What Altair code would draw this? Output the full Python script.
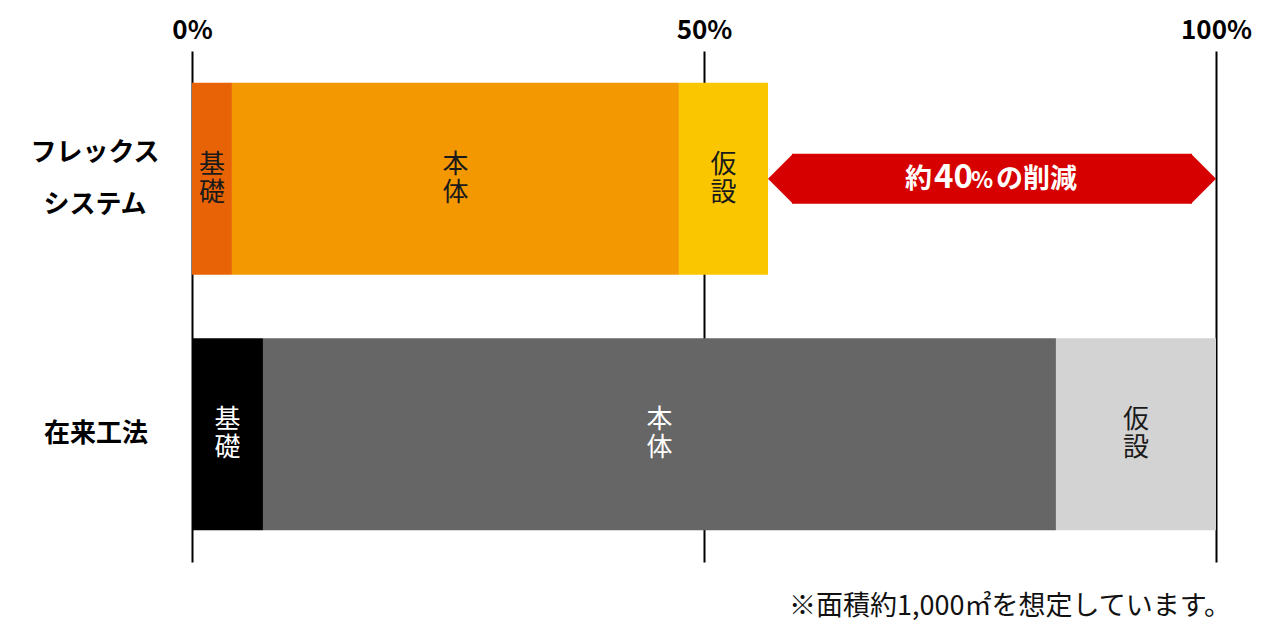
import altair as alt
import pandas as pd

FONT = "Noto Sans CJK JP"

methods = ["フレックスシステム", "在来工法"]
method_labels = ["フレックス\nシステム", "在来工法"]
segments = ["基礎", "本体", "仮設"]
flex_values = [3.9, 43.65, 8.7]
conv_values = [6.93, 77.44, 15.63]
flex_colors = ["#E86306", "#F39800", "#F9C600"]
conv_colors = ["#000000", "#666666", "#D3D3D3"]
flex_text_colors = ["#1a1a1a", "#1a1a1a", "#1a1a1a"]
conv_text_colors = ["#ffffff", "#ffffff", "#1a1a1a"]
tick_values = [0, 50, 100]
arrow_parts = ["約", "40", "%", "の削減"]
arrow_part_sizes = [27, 33, 23, 27]
arrow_part_dx = [-87, -58, -21, 4]
arrow_color = "#D60000"
footnote = "※面積約1,000㎡を想定しています。"

rows = []
for m, vals, cols, tcols in [
    (methods[0], flex_values, flex_colors, flex_text_colors),
    (methods[1], conv_values, conv_colors, conv_text_colors),
]:
    for i, (s, v, c, tc) in enumerate(zip(segments, vals, cols, tcols)):
        rows.append({"method": m, "segment": s, "label": "\n".join(s),
                     "value": v, "order": i, "color": c, "tcolor": tc})
df = pd.DataFrame(rows)

yscale = alt.Scale(domain=methods, paddingInner=0.2485, paddingOuter=0.124)
Y = alt.Y("method:N", sort=methods, scale=yscale, axis=None)
xscale = alt.Scale(domain=[0, 100], nice=False, zero=False)

xaxis = alt.Axis(
    orient="top", values=tick_values, labelExpr="datum.value + '%'",
    grid=True, gridColor="#000000", gridWidth=2, gridOpacity=1,
    domain=False, ticks=False, labelFontSize=26, labelFontWeight="bold",
    labelColor="#000000", labelPadding=8, labelFont=FONT, title=None,
    labelFlush=False, labelOverlap=False,
)

base = alt.Chart(df).transform_stack(
    stack="value", groupby=["method"], as_=["x0", "x1"],
    sort=[alt.SortField("order", order="ascending")],
)

bars = base.mark_bar().encode(
    x=alt.X("x0:Q", scale=xscale, axis=xaxis),
    x2="x1:Q",
    y=Y,
    color=alt.Color("color:N", scale=None),
)

seg_text = base.transform_calculate(xm="(datum.x0 + datum.x1) / 2").mark_text(
    font=FONT, fontSize=26, lineHeight=28, lineBreak="\n",
    align="center", baseline="middle", dy=-14,
).encode(
    x=alt.X("xm:Q", scale=xscale),
    y=Y,
    text="label:N",
    color=alt.Color("tcolor:N", scale=None),
)

cat_df = pd.DataFrame({"method": methods, "label": method_labels,
                       "shift": [-26, 0]})
cat_text = alt.Chart(cat_df).transform_filter("datum.shift < 0").mark_text(
    font=FONT, fontSize=26, fontWeight="bold", lineHeight=52, lineBreak="\n",
    align="center", baseline="middle", color="#000000", dy=-26,
).encode(x=alt.value(-97), y=Y, text="label:N")
cat_text2 = alt.Chart(cat_df).transform_filter("datum.shift == 0").mark_text(
    font=FONT, fontSize=26, fontWeight="bold",
    align="center", baseline="middle", color="#000000",
).encode(x=alt.value(-96), y=Y, text="label:N")

arrow_df = pd.DataFrame({"method": [methods[0]], "start": [sum(flex_values)], "end": [100]})
arrow_body = alt.Chart(arrow_df).mark_bar(
    size=50, xOffset=24, x2Offset=-24, color=arrow_color
).encode(x=alt.X("start:Q", scale=xscale), x2="end:Q", y=Y)
arrow_left = alt.Chart(arrow_df).mark_point(
    shape="M0,0L1,-1L1,1Z", size=2500, filled=True, opacity=1,
    strokeWidth=0, color=arrow_color,
).encode(x=alt.X("start:Q", scale=xscale), y=Y)
arrow_right = alt.Chart(arrow_df).mark_point(
    shape="M0,0L-1,-1L-1,1Z", size=2500, filled=True, opacity=1,
    strokeWidth=0, color=arrow_color,
).encode(x=alt.X("end:Q", scale=xscale), y=Y)

arrow_texts = []
for part, fs, dx in zip(arrow_parts, arrow_part_sizes, arrow_part_dx):
    arrow_texts.append(
        alt.Chart(arrow_df).transform_calculate(
            xm="(datum.start + datum.end) / 2"
        ).mark_text(
            font=FONT, fontSize=fs, fontWeight="bold", color="#ffffff",
            align="left", baseline="alphabetic", dx=dx, dy=9, text=part,
        ).encode(x=alt.X("xm:Q", scale=xscale), y=Y)
    )

foot_df = pd.DataFrame({"t": [footnote]})
foot = alt.Chart(foot_df).mark_text(
    font=FONT, fontSize=27, align="right", baseline="middle", color="#111111",
).encode(x=alt.value(1039), y=alt.value(556), text="t:N")

chart = alt.layer(
    bars, seg_text, cat_text, cat_text2, arrow_body, arrow_left, arrow_right,
    *arrow_texts, foot,
).properties(
    width=1024, height=511,
    padding={"left": 184, "top": 43, "right": 56, "bottom": 70},
    autosize=alt.AutoSizeParams(type="none"),
).configure(font=FONT).configure_view(stroke=None)

chart.save("out.html", embed_options={"renderer": "svg", "actions": False})
